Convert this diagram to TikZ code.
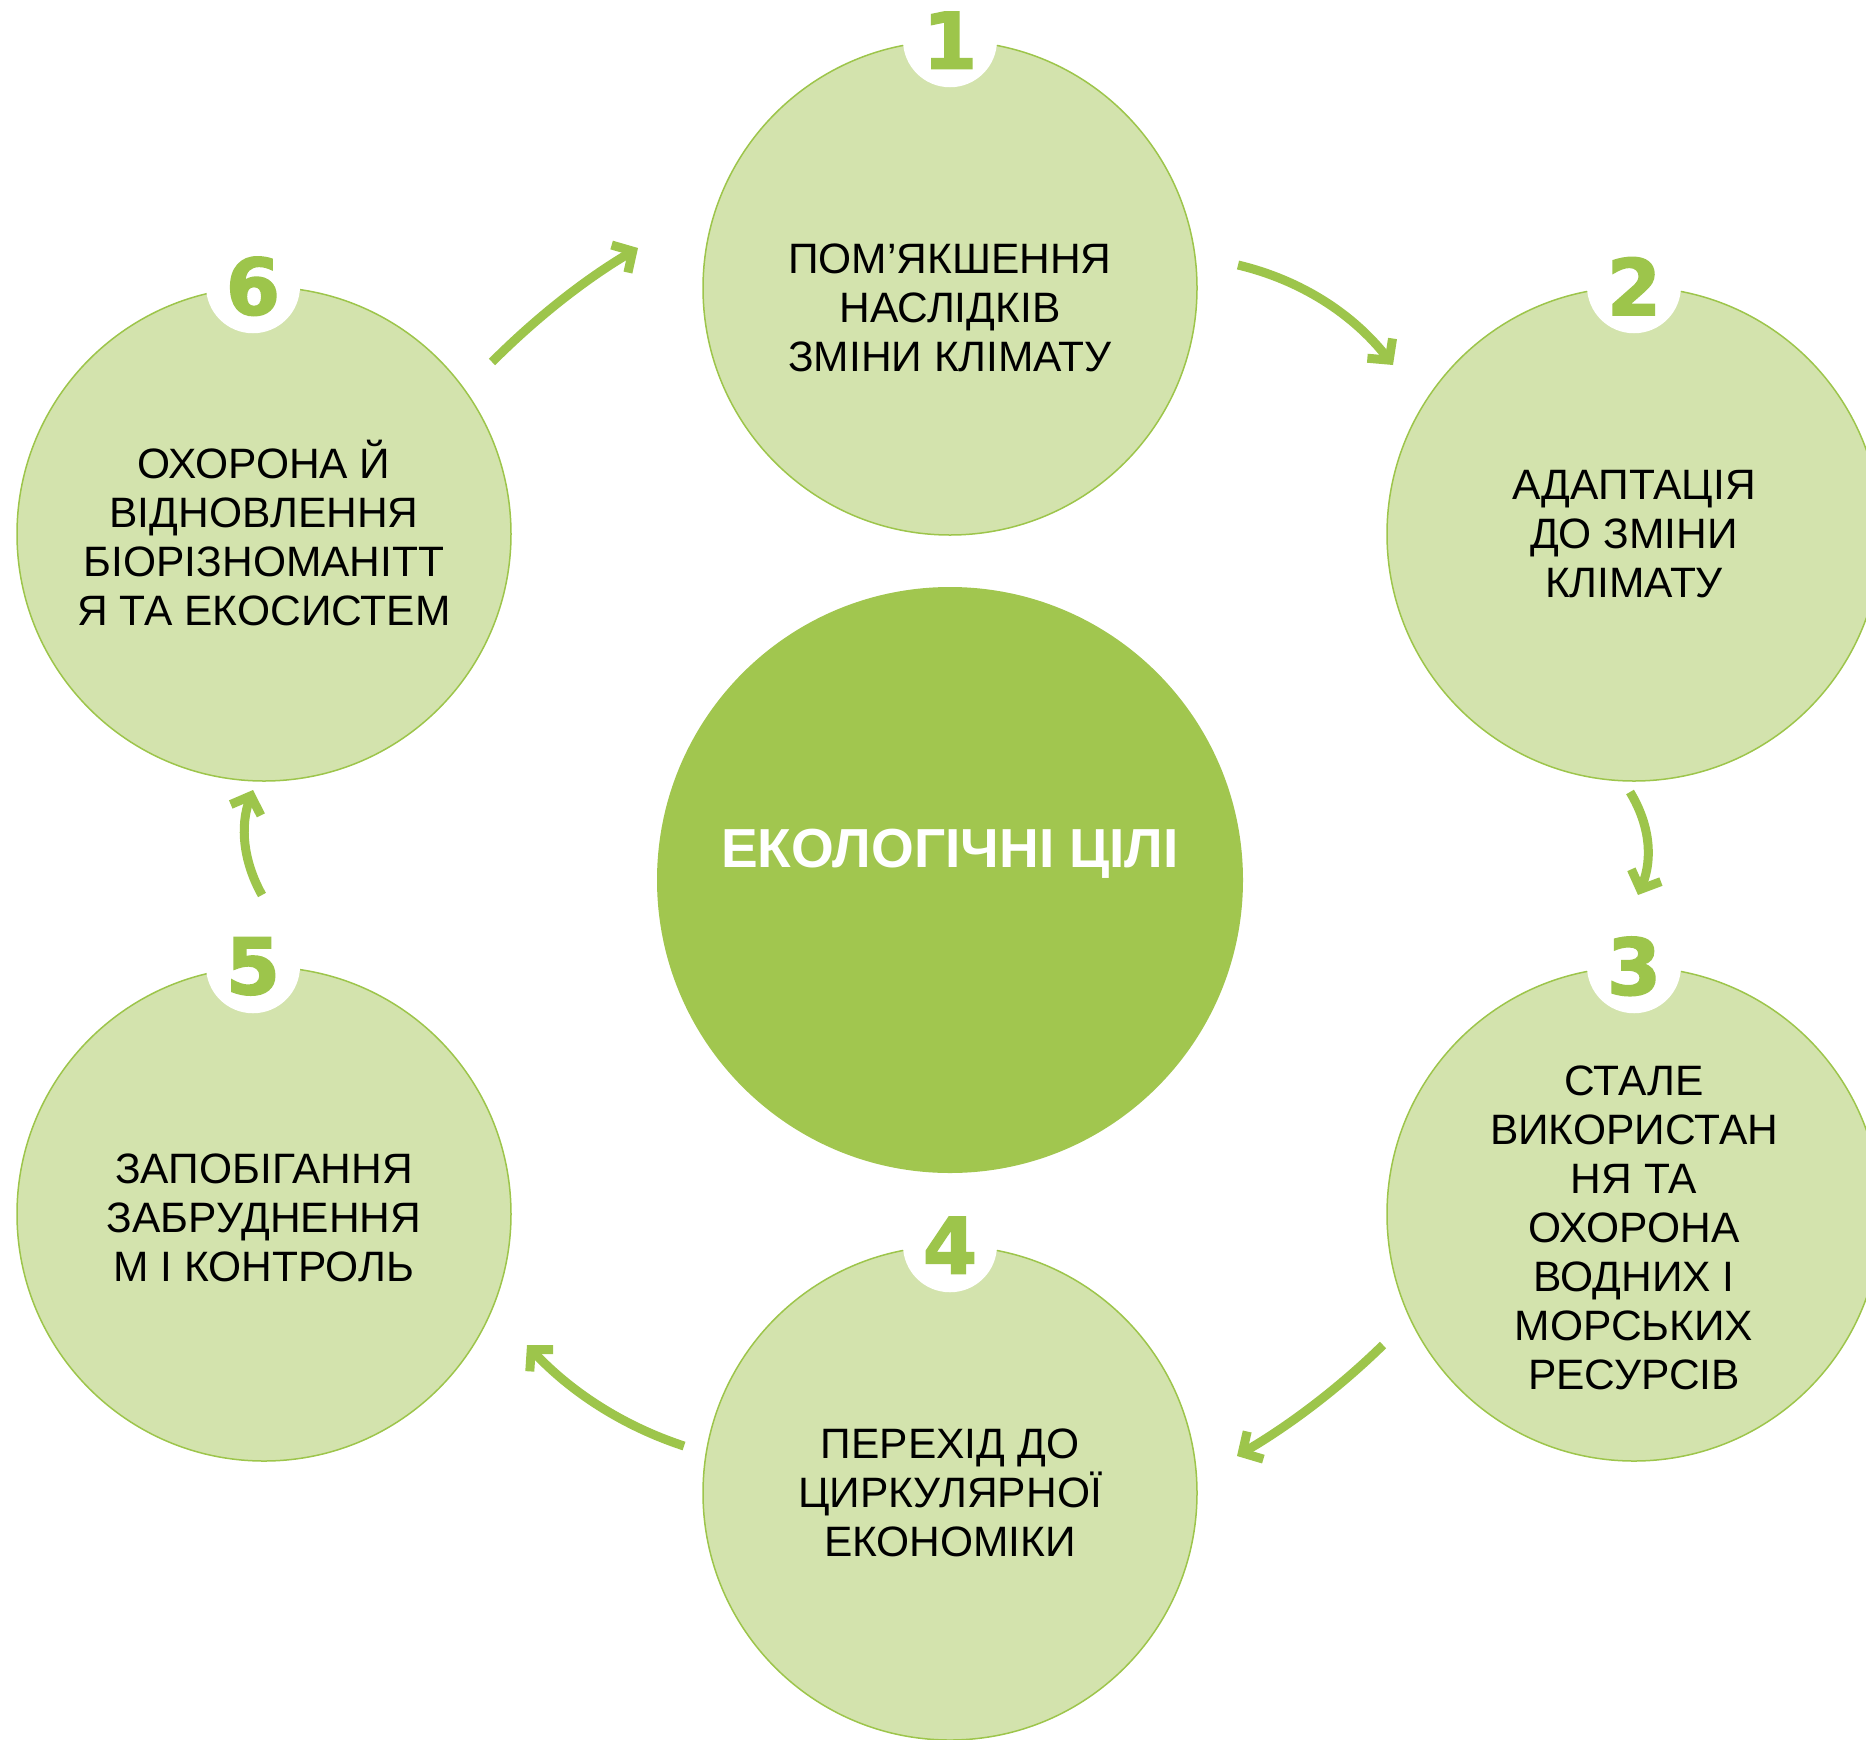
\documentclass[tikz,border=0pt]{standalone}
\usepackage{fontspec}
\setmainfont{Liberation Sans}
\newfontfamily\numfont{DejaVu Sans}[BoldFeatures={FakeBold=2}]
\usetikzlibrary{arrows.meta}
\definecolor{leaf}{HTML}{9DC54B}
\definecolor{pale}{HTML}{D3E3AD}
\definecolor{hubgreen}{HTML}{A1C64F}

\begin{document}
\begin{tikzpicture}[x=1pt,y=-1pt,
  goal/.style={circle,fill=pale,draw=leaf,line width=1.5pt,minimum size=494pt,inner sep=0pt},
  goaltext/.style={align=center,font=\fontsize{42.5}{49}\selectfont},
  badge/.style={circle,fill=white,minimum size=94pt,inner sep=0pt,text=leaf,font=\numfont\bfseries\fontsize{78}{78}\selectfont},
  hub/.style={circle,fill=hubgreen,minimum size=586pt,inner sep=0pt},
  hubtext/.style={text=white,font=\bfseries\fontsize{55}{60}\selectfont},
  flow/.style={draw=leaf,line width=9pt,-{Straight Barb[length=15pt,width=32pt]}}]
\useasboundingbox (0,0) rectangle (1866,1740);

\node[hub] (hub) at (950,880) {};
\node[hubtext] (hubname) at (950,854) {ЕКОЛОГІЧНІ ЦІЛІ};

\node[goal] (c1) at (950,288) {};
\node[goal] (c2) at (1634,534) {};
\node[goal] (c3) at (1634,1214) {};
\node[goal] (c4) at (950,1493) {};
\node[goal] (c5) at (264,1214) {};
\node[goal] (c6) at (264,534) {};

\node[goaltext] (t1) at (950,308) {ПОМ’ЯКШЕННЯ\\НАСЛІДКІВ\\ЗМІНИ КЛІМАТУ};
\node[goaltext] (t2) at (1634,534) {АДАПТАЦІЯ\\ДО ЗМІНИ\\КЛІМАТУ};
\node[goaltext] (t3) at (1634,1228) {СТАЛЕ\\ВИКОРИСТАН\\НЯ ТА\\ОХОРОНА\\ВОДНИХ І\\МОРСЬКИХ\\РЕСУРСІВ};
\node[goaltext] (t4) at (950,1493) {ПЕРЕХІД ДО\\ЦИРКУЛЯРНОЇ\\ЕКОНОМІКИ};
\node[goaltext] (t5) at (264,1218) {ЗАПОБІГАННЯ\\ЗАБРУДНЕННЯ\\М І КОНТРОЛЬ};
\node[goaltext] (t6) at (264,533) {ОХОРОНА Й\\ВІДНОВЛЕННЯ\\БІОРІЗНОМАНІТТ\\Я ТА ЕКОСИСТЕМ};

\foreach \i in {1,...,4}
  \node[badge] (n\i) at (c\i.north) {\i};
\foreach \i in {5,6}
  \node[badge,xshift=-11pt] (n\i) at (c\i.north) {\i};

\coordinate (a1s) at (1238,265);
\coordinate (a1e) at (1393,365);
\coordinate (a2s) at (1630,792);
\coordinate (a2e) at (1638,895);
\coordinate (a3s) at (1383,1345);
\coordinate (a3e) at (1237,1456);
\coordinate (a4s) at (684,1446);
\coordinate (a4e) at (527,1345);
\coordinate (a5s) at (262,895);
\coordinate (a5e) at (253,790);
\coordinate (a6s) at (492,362);
\coordinate (a6e) at (638,248);

\draw[flow] (a1s) .. controls (1301,280) and (1353,314) .. (a1e);
\draw[flow] (a2s) .. controls (1650,825) and (1653,859) .. (a2e);
\draw[flow] (a3s) .. controls (1339,1388) and (1290,1425) .. (a3e);
\draw[flow] (a4s) .. controls (623,1426) and (571,1392) .. (a4e);
\draw[flow] (a5s) .. controls (243,861) and (240,826) .. (a5e);
\draw[flow] (a6s) .. controls (536,318) and (584,280) .. (a6e);
\end{tikzpicture}
\end{document}
